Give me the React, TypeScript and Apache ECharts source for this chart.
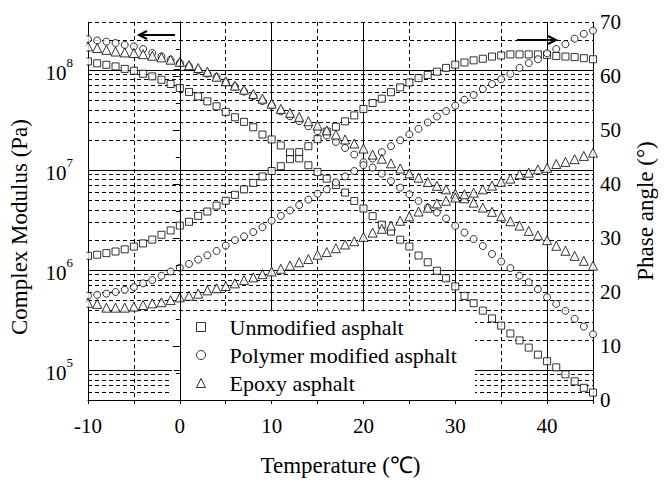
import React, { useEffect, useRef } from 'react';
import * as echarts from 'echarts';

const FONT = 'Times New Roman';

const temperatures = [
  -10, -9, -8, -7, -6, -5, -4, -3, -2, -1,
  0, 1, 2, 3, 4, 5, 6, 7, 8, 9,
  10, 11, 12, 13, 14, 15, 16, 17, 18, 19,
  20, 21, 22, 23, 24, 25, 26, 27, 28, 29,
  30, 31, 32, 33, 34, 35, 36, 37, 38, 39,
  40, 41, 42, 43, 44, 45,
];

// Complex modulus (Pa), left log axis
const unmodifiedModulus = [
  1.21e8, 1.16e8, 1.12e8, 1.08e8, 1.02e8, 9.77e7, 9.12e7, 8.58e7, 7.94e7, 7.2e7,
  6.57e7, 6.0e7, 5.42e7, 4.83e7, 4.31e7, 3.79e7, 3.35e7, 3.01e7, 2.66e7, 2.25e7,
  2.01e7, 1.75e7, 1.49e7, 1.3e7, 1.11e7, 9.53e6, 8.15e6, 7.04e6, 5.92e6, 4.88e6,
  4.1e6, 3.44e6, 2.83e6, 2.41e6, 2.0e6, 1.71e6, 1.39e6, 1.19e6, 9.8e5, 8.23e5,
  6.82e5, 5.49e5, 4.64e5, 3.91e5, 3.27e5, 2.77e5, 2.31e5, 1.97e5, 1.67e5, 1.42e5,
  1.22e5, 1.06e5, 9.02e4, 7.68e4, 6.62e4, 5.93e4,
];
const polymerModulus = [
  2.02e8, 1.96e8, 1.91e8, 1.85e8, 1.77e8, 1.71e8, 1.61e8, 1.47e8, 1.36e8, 1.26e8,
  1.17e8, 1.08e8, 9.84e7, 9.12e7, 8.46e7, 7.48e7, 6.78e7, 6.04e7, 5.45e7, 4.86e7,
  4.38e7, 3.84e7, 3.43e7, 3.06e7, 2.72e7, 2.43e7, 2.2e7, 1.9e7, 1.65e7, 1.42e7,
  1.19e7, 1.05e7, 9.14e6, 7.71e6, 6.63e6, 5.69e6, 4.88e6, 4.2e6, 3.74e6, 3.26e6,
  2.75e6, 2.36e6, 2.03e6, 1.73e6, 1.44e6, 1.21e6, 1.04e6, 8.73e5, 7.51e5, 6.4e5,
  5.32e5, 4.56e5, 3.89e5, 3.24e5, 2.71e5, 2.27e5,
];
const epoxyModulus = [
  1.71e8, 1.65e8, 1.58e8, 1.52e8, 1.49e8, 1.47e8, 1.43e8, 1.38e8, 1.33e8, 1.26e8,
  1.2e8, 1.11e8, 1.04e8, 9.55e7, 8.51e7, 7.67e7, 6.93e7, 6.32e7, 5.73e7, 5.14e7,
  4.58e7, 4.06e7, 3.71e7, 3.38e7, 3.06e7, 2.77e7, 2.48e7, 2.25e7, 2.01e7, 1.83e7,
  1.63e7, 1.42e7, 1.29e7, 1.16e7, 1.03e7, 9.21e6, 8.34e6, 7.54e6, 6.91e6, 6.38e6,
  5.78e6, 5.19e6, 4.7e6, 4.19e6, 3.8e6, 3.43e6, 3.06e6, 2.77e6, 2.45e6, 2.21e6,
  1.98e6, 1.74e6, 1.55e6, 1.38e6, 1.23e6, 1.1e6,
];

// Phase angle (degrees), right axis
const unmodifiedPhase = [
  26.7, 26.9, 27.2, 27.5, 27.9, 28.4, 29.0, 29.7, 30.6, 31.4,
  32.3, 33.0, 34.1, 34.9, 36.0, 36.9, 38.0, 39.0, 40.2, 41.4,
  42.4, 43.3, 44.6, 45.9, 47.0, 48.3, 49.7, 50.6, 51.6, 52.7,
  53.9, 55.0, 55.8, 57.0, 57.9, 58.8, 59.6, 60.2, 60.8, 61.5,
  62.1, 62.5, 62.9, 63.2, 63.6, 63.8, 64.0, 64.0, 64.0, 64.0,
  63.9, 63.7, 63.6, 63.5, 63.3, 63.1,
];
const polymerPhase = [
  19.3, 19.5, 19.7, 20.0, 20.4, 20.9, 21.6, 22.2, 23.0, 23.8,
  24.5, 25.2, 26.0, 26.8, 27.6, 28.6, 29.6, 30.3, 31.1, 32.0,
  33.2, 34.1, 35.1, 36.1, 37.1, 38.2, 39.0, 40.3, 41.4, 42.4,
  43.5, 44.7, 45.9, 47.0, 48.1, 49.2, 50.2, 51.4, 52.5, 53.5,
  54.5, 55.6, 56.5, 57.6, 58.5, 59.4, 60.4, 61.5, 62.4, 63.1,
  64.2, 65.0, 65.9, 66.9, 67.8, 68.4,
];
const epoxyPhase = [
  18.0, 17.8, 17.1, 17.1, 17.1, 17.3, 17.6, 17.9, 18.1, 18.5,
  19.0, 19.3, 19.7, 20.3, 20.7, 21.1, 21.6, 22.2, 22.7, 23.3,
  23.8, 24.3, 24.9, 25.5, 26.1, 26.9, 27.4, 28.1, 28.8, 29.4,
  30.2, 31.0, 31.7, 32.3, 33.2, 34.0, 34.9, 35.6, 36.4, 36.9,
  37.5, 38.1, 38.4, 39.0, 39.7, 40.4, 41.0, 41.8, 42.1, 42.7,
  43.0, 43.7, 44.1, 44.6, 45.2, 45.8,
];

const seriesNames = ['Unmodified asphalt', 'Polymer modified asphalt', 'Epoxy asphalt'];
const seriesSymbols = ['rect', 'circle', 'triangle'];

// Horizontal grid on the log axis
const decadeLines = [1e5, 1e6, 1e7, 1e8];
const minorLines = [
  6e4, 7e4, 8e4, 9e4,
  2e5, 3e5, 4e5, 5e5, 6e5, 7e5, 8e5, 9e5,
  2e6, 3e6, 4e6, 5e6, 6e6, 7e6, 8e6, 9e6,
  2e7, 3e7, 4e7, 5e7, 6e7, 7e7, 8e7, 9e7,
  2e8, 3e8,
];

const X_MIN = -10;
const X_MAX = 45;
const Y_MIN = 5e4;
const Y_MAX = 3e8;

export default function App() {
  const ref = useRef<HTMLDivElement>(null);

  useEffect(() => {
    if (!ref.current) return;
    const chart = echarts.init(ref.current, null, { renderer: 'svg' });

    const pair = (ys: number[]) => temperatures.map((t, i) => [t, ys[i]]);
    const markerStyle = { color: '#fff', borderColor: '#000', borderWidth: 1 };
    const sizes = [7, 7, 9];
    const modulus = [unmodifiedModulus, polymerModulus, epoxyModulus];
    const phase = [unmodifiedPhase, polymerPhase, epoxyPhase];

    const scatter: any[] = [];
    for (let k = 0; k < 3; k++) {
      scatter.push({
        type: 'scatter', name: seriesNames[k], symbol: seriesSymbols[k], symbolSize: sizes[k],
        xAxisIndex: 0, yAxisIndex: 0, data: pair(modulus[k]), z: 3,
        itemStyle: markerStyle, emphasis: { disabled: true }, silent: true,
      });
      scatter.push({
        type: 'scatter', name: seriesNames[k], symbol: seriesSymbols[k], symbolSize: sizes[k],
        xAxisIndex: 0, yAxisIndex: 1, data: pair(phase[k]), z: 3,
        itemStyle: markerStyle, emphasis: { disabled: true }, silent: true,
      });
    }

    const gridData = [
      ...decadeLines.map((v) => [X_MIN, v, 0]),
      ...minorLines.map((v) => [X_MIN, v, 1]),
    ];

    const nameStyle = { fontSize: 23, fontFamily: FONT, color: '#000' };
    const tickLabel = { fontSize: 21, fontFamily: FONT, color: '#000' };

    const option: any = {
      animation: false,
      backgroundColor: '#fff',
      textStyle: { fontFamily: FONT },
      grid: { left: 87, right: 65, top: 22, bottom: 80, containLabel: false },
      legend: {
        orient: 'vertical', left: 191, top: 311, padding: 5, itemGap: 6,
        itemWidth: 9, itemHeight: 9, z: 6, selectedMode: false,
        data: seriesNames.map((n, i) => ({ name: n, icon: seriesSymbols[i] })),
        itemStyle: { color: '#fff', borderColor: '#000', borderWidth: 1 },
        textStyle: { fontSize: 22, lineHeight: 22, color: '#000', fontFamily: FONT, padding: [0, 0, 0, 19] },
      },
      xAxis: [
        {
          type: 'value', min: X_MIN, max: X_MAX, interval: 5, position: 'bottom', z: 1,
          axisLine: { show: false }, axisTick: { show: false },
          axisLabel: {
            ...tickLabel, margin: 15,
            formatter: (v: number) => (v % 10 === 0 && v < X_MAX ? String(v) : ''),
          },
          splitLine: { show: true, lineStyle: { color: '#000', width: 1, type: [4, 3] } },
          name: 'Temperature (℃)', nameLocation: 'middle', nameGap: 54, nameTextStyle: nameStyle,
        },
        {
          type: 'value', min: X_MIN, max: X_MAX, interval: 10, position: 'bottom', z: 1,
          axisLine: { show: false }, axisTick: { show: false }, axisLabel: { show: false },
          splitLine: { show: true, lineStyle: { color: '#000', width: 1, type: 'solid' } },
        },
        {
          type: 'value', min: X_MIN, max: X_MAX, interval: 5, position: 'bottom', z: 5,
          axisLine: { show: true, lineStyle: { color: '#000', width: 1 } },
          axisTick: { show: true, inside: false, length: 4, lineStyle: { color: '#000' } },
          axisLabel: { show: false }, splitLine: { show: false },
        },
      ],
      yAxis: [
        {
          type: 'log', logBase: 10, min: Y_MIN, max: Y_MAX, position: 'left', z: 5,
          axisLine: { show: true, lineStyle: { color: '#000', width: 1 } },
          axisTick: { show: true, inside: false, length: 6, lineStyle: { color: '#000' } },
          splitLine: { show: false },
          axisLabel: {
            margin: 15, color: '#000',
            formatter: (v: number) => {
              const e = Math.log10(v);
              const r = Math.round(e);
              return Math.abs(e - r) < 1e-6 ? `{b|10}{s|${r}}` : '';
            },
            rich: {
              b: { fontSize: 21, fontFamily: FONT, color: '#000', lineHeight: 28, verticalAlign: 'bottom' },
              s: { fontSize: 13, fontFamily: FONT, color: '#000', lineHeight: 28, verticalAlign: 'top' },
            },
          },
          name: 'Complex Modulus (Pa)', nameLocation: 'middle', nameGap: 57, nameRotate: 90,
          nameTextStyle: { ...nameStyle, padding: [0, 32, 0, 0] },
        },
        {
          type: 'value', min: 0, max: 70, interval: 10, position: 'right', z: 5,
          axisLine: { show: true, lineStyle: { color: '#000', width: 1 } },
          axisTick: { show: true, inside: true, length: 7, lineStyle: { color: '#000' } },
          minorTick: { show: true, splitNumber: 2, length: 4, lineStyle: { color: '#000' } },
          splitLine: { show: false },
          axisLabel: { ...tickLabel, margin: 7 },
          name: 'Phase angle (°)', nameLocation: 'middle', nameGap: 41, nameRotate: 90,
          nameTextStyle: nameStyle,
        },
      ],
      graphic: [
        { type: 'rect', z: 2, silent: true, shape: { x: 172, y: 311.5, width: 303, height: 90 }, style: { fill: '#fff' } },
        { type: 'rect', z: 4, silent: true, shape: { x: 40, y: 10, width: 46.5, height: 393 }, style: { fill: '#fff' } },
        { type: 'rect', z: 4, silent: true, shape: { x: 600.5, y: 10, width: 5, height: 393 }, style: { fill: '#fff' } },
        { type: 'rect', z: 4, silent: true, shape: { x: 80, y: 5, width: 530, height: 16.5 }, style: { fill: '#fff' } },
        {
          type: 'group', z: 6, children: [
            { type: 'line', z: 6, shape: { x1: 175, y1: 35, x2: 139, y2: 35 }, style: { stroke: '#000', lineWidth: 2 } },
            { type: 'polyline', z: 6, shape: { points: [[147, 31], [139, 35], [147, 39]] }, style: { stroke: '#000', lineWidth: 2, fill: null } },
            { type: 'line', z: 6, shape: { x1: 517, y1: 40, x2: 556, y2: 40 }, style: { stroke: '#000', lineWidth: 2 } },
            { type: 'polyline', z: 6, shape: { points: [[548, 36], [556, 40], [548, 44]] }, style: { stroke: '#000', lineWidth: 2, fill: null } },
          ],
        },
      ],
      series: [
        {
          type: 'custom', name: 'grid', xAxisIndex: 0, yAxisIndex: 0, z: 1, silent: true, clip: false,
          encode: { x: 0, y: 1 },
          data: gridData,
          renderItem: (params: any, api: any) => {
            const v = api.value(1);
            const minor = api.value(2) === 1;
            const a = api.coord([X_MIN, v]);
            const b = api.coord([X_MAX, v]);
            const y = Math.round(a[1]) + 0.5;
            return {
              type: 'line',
              shape: { x1: a[0], y1: y, x2: b[0], y2: y },
              style: { stroke: '#000', lineWidth: 1, lineDash: minor ? [4, 3] : null },
            };
          },
        },
        ...scatter,
      ],
    };

    chart.setOption(option);
    return () => chart.dispose();
  }, []);

  return (
    <div
      ref={ref}
      style={{ position: 'absolute', left: 0, top: 0, width: 665, height: 482, background: '#fff' }}
    />
  );
}
